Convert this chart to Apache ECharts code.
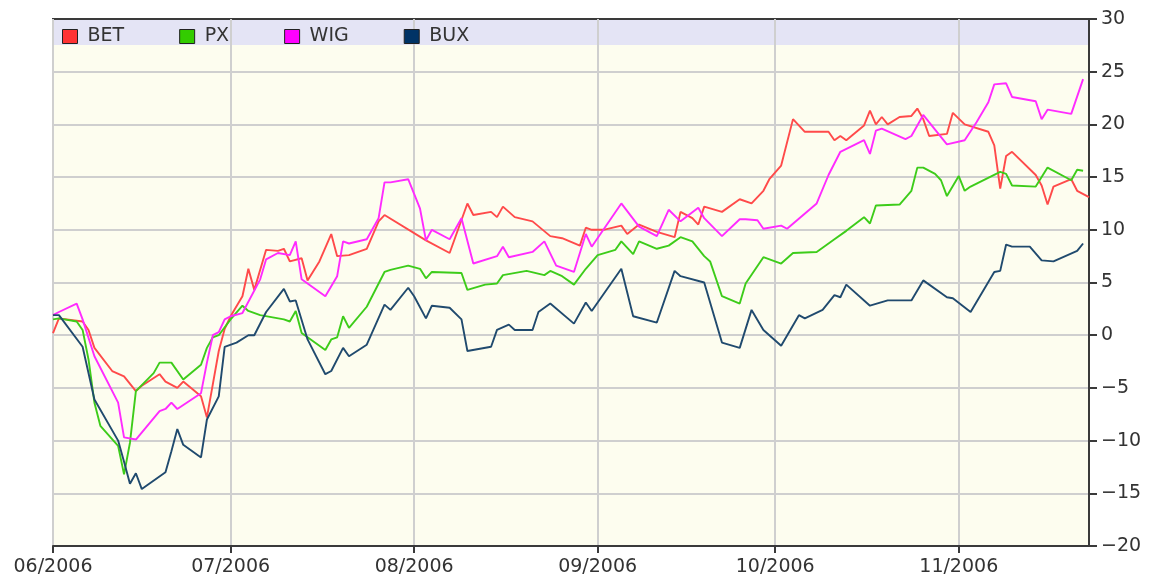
<!DOCTYPE html>
<html>
<head>
<meta charset="utf-8">
<script src="https://cdn.jsdelivr.net/npm/echarts@6/dist/echarts.min.js"></script>
<style>
  html, body { margin: 0; padding: 0; background: #ffffff; }
  #chart { width: 1150px; height: 584px; }
</style>
</head>
<body>
<div id="chart"></div>
<script>
// index performance in %
var seriesNames = ['BET', 'PX', 'WIG', 'BUX'];
var yTicks = [-20, -15, -10, -5, 0, 5, 10, 15, 20, 25, 30];

var betDates = ['2006-06-01','2006-06-02','2006-06-06','2006-06-07','2006-06-08','2006-06-11','2006-06-13','2006-06-15','2006-06-16','2006-06-19','2006-06-20','2006-06-22','2006-06-23','2006-06-26','2006-06-27','2006-06-29','2006-06-30',
  '2006-07-01','2006-07-03','2006-07-04','2006-07-05','2006-07-07','2006-07-09','2006-07-10','2006-07-11','2006-07-13','2006-07-14','2006-07-16','2006-07-18','2006-07-19','2006-07-21','2006-07-24','2006-07-26','2006-07-27',
  '2006-08-03','2006-08-07','2006-08-10','2006-08-11','2006-08-14','2006-08-15','2006-08-16','2006-08-18','2006-08-21','2006-08-24','2006-08-26','2006-08-29','2006-08-30','2006-08-31',
  '2006-09-02','2006-09-05','2006-09-06','2006-09-08','2006-09-11','2006-09-14','2006-09-15','2006-09-17','2006-09-18','2006-09-19','2006-09-22','2006-09-25','2006-09-27','2006-09-29','2006-09-30',
  '2006-10-02','2006-10-04','2006-10-06','2006-10-10','2006-10-11','2006-10-12','2006-10-13','2006-10-16','2006-10-17','2006-10-18','2006-10-19','2006-10-20','2006-10-22','2006-10-24','2006-10-25','2006-10-26','2006-10-27','2006-10-30','2006-10-31',
  '2006-11-02','2006-11-06','2006-11-07','2006-11-08','2006-11-09','2006-11-10','2006-11-14','2006-11-15','2006-11-16','2006-11-17','2006-11-20','2006-11-21','2006-11-23'];
var betValues = [0.2,1.6,1.3,0.5,-1.2,-3.4,-3.9,-5.3,-4.8,-3.7,-4.4,-5.0,-4.4,-5.8,-7.8,-1.5,0.6,
  1.8,3.7,6.3,4.3,8.1,8.0,8.2,7.0,7.3,5.2,7.0,9.6,7.5,7.6,8.2,10.8,11.4,
  9.0,7.8,12.5,11.4,11.7,11.2,12.2,11.2,10.8,9.4,9.2,8.5,10.2,10.0,
  10.0,10.4,9.6,10.5,9.8,9.3,11.7,11.1,10.5,12.2,11.7,12.9,12.5,13.7,14.8,
  16.1,20.5,19.3,19.3,18.5,18.9,18.5,19.9,21.3,20.0,20.7,20.0,20.7,20.8,21.5,20.5,18.9,19.1,21.1,
  20.0,19.3,18.0,13.9,17.0,17.4,15.2,14.2,12.4,14.1,14.8,13.7,13.1];

var pxDates = ['2006-06-01','2006-06-02','2006-06-05','2006-06-06','2006-06-07','2006-06-08','2006-06-09','2006-06-12','2006-06-13','2006-06-14','2006-06-15','2006-06-18','2006-06-19','2006-06-21','2006-06-23','2006-06-26','2006-06-27','2006-06-28','2006-06-29',
  '2006-07-01','2006-07-03','2006-07-04','2006-07-06','2006-07-10','2006-07-11','2006-07-12','2006-07-13','2006-07-17','2006-07-18','2006-07-19','2006-07-20','2006-07-21','2006-07-24','2006-07-27','2006-07-28','2006-07-31',
  '2006-08-02','2006-08-03','2006-08-04','2006-08-09','2006-08-10','2006-08-13','2006-08-15','2006-08-16','2006-08-20','2006-08-23','2006-08-24','2006-08-26','2006-08-28','2006-08-30',
  '2006-09-01','2006-09-04','2006-09-05','2006-09-07','2006-09-08','2006-09-11','2006-09-13','2006-09-15','2006-09-17','2006-09-19','2006-09-20','2006-09-22','2006-09-25','2006-09-26','2006-09-29',
  '2006-10-02','2006-10-04','2006-10-08','2006-10-10','2006-10-11','2006-10-13','2006-10-16','2006-10-17','2006-10-18','2006-10-22','2006-10-24','2006-10-25','2006-10-26','2006-10-28','2006-10-29','2006-10-30',
  '2006-11-01','2006-11-02','2006-11-03','2006-11-08','2006-11-09','2006-11-10','2006-11-14','2006-11-16','2006-11-20','2006-11-21','2006-11-22'];
var pxValues = [1.5,1.6,1.3,0.5,-2.3,-6.4,-8.6,-10.5,-13.2,-10.2,-5.3,-3.6,-2.6,-2.6,-4.2,-2.8,-1.2,-0.2,0.0,
  1.5,2.8,2.3,1.9,1.5,1.3,2.3,0.2,-1.4,-0.4,-0.2,1.8,0.7,2.7,6.0,6.2,6.6,
  6.3,5.4,6.0,5.9,4.3,4.8,4.9,5.7,6.1,5.7,6.1,5.6,4.8,6.3,
  7.6,8.1,8.9,7.7,8.9,8.2,8.5,9.3,8.9,7.5,7.0,3.7,3.0,4.9,7.4,
  6.8,7.8,7.9,8.7,9.1,9.9,11.2,10.6,12.3,12.4,13.7,15.9,15.9,15.3,14.7,13.2,
  15.1,13.7,14.1,15.5,15.3,14.2,14.1,15.9,14.7,15.7,15.6];

var wigDates = ['2006-06-01','2006-06-02','2006-06-05','2006-06-06','2006-06-08','2006-06-12','2006-06-13','2006-06-15','2006-06-19','2006-06-20','2006-06-21','2006-06-22','2006-06-26','2006-06-27','2006-06-28','2006-06-29','2006-06-30',
  '2006-07-01','2006-07-03','2006-07-06','2006-07-07','2006-07-09','2006-07-11','2006-07-12','2006-07-13','2006-07-17','2006-07-19','2006-07-20','2006-07-21','2006-07-24','2006-07-26','2006-07-27','2006-07-28','2006-07-31',
  '2006-08-01','2006-08-02','2006-08-03','2006-08-04','2006-08-07','2006-08-09','2006-08-11','2006-08-15','2006-08-16','2006-08-17','2006-08-21','2006-08-23','2006-08-25','2006-08-28','2006-08-30','2006-08-31',
  '2006-09-05','2006-09-08','2006-09-11','2006-09-13','2006-09-15','2006-09-18','2006-09-19','2006-09-22','2006-09-25','2006-09-26','2006-09-28','2006-09-29',
  '2006-10-02','2006-10-03','2006-10-08','2006-10-10','2006-10-12','2006-10-16','2006-10-17','2006-10-18','2006-10-19','2006-10-23','2006-10-24','2006-10-26','2006-10-30',
  '2006-11-02','2006-11-04','2006-11-06','2006-11-07','2006-11-09','2006-11-10','2006-11-14','2006-11-15','2006-11-16','2006-11-20','2006-11-22'];
var wigValues = [1.9,2.2,3.0,1.5,-2.0,-6.4,-9.7,-9.9,-7.2,-7.0,-6.4,-7.0,-5.5,-2.6,0.0,0.3,1.5,
  1.8,2.1,5.3,7.2,7.8,7.6,8.9,5.3,3.7,5.6,8.9,8.7,9.1,11.1,14.5,14.5,14.8,
  13.4,12.0,9.0,10.0,9.1,11.1,6.8,7.5,8.4,7.4,7.9,8.9,6.6,6.0,9.6,8.4,
  12.5,10.3,9.4,11.9,10.8,12.1,11.1,9.4,11.0,11.0,10.9,10.1,
  10.4,10.1,12.5,15.2,17.4,18.5,17.2,19.4,19.6,18.6,18.9,20.9,18.1,
  18.5,20.2,22.1,23.8,23.9,22.6,22.2,20.5,21.4,21.0,24.3];

var buxDates = ['2006-06-01','2006-06-02','2006-06-06','2006-06-08','2006-06-12','2006-06-13','2006-06-14','2006-06-15','2006-06-16','2006-06-20','2006-06-21','2006-06-22','2006-06-23','2006-06-26','2006-06-27','2006-06-29','2006-06-30',
  '2006-07-02','2006-07-04','2006-07-05','2006-07-07','2006-07-10','2006-07-11','2006-07-12','2006-07-14','2006-07-17','2006-07-18','2006-07-20','2006-07-21','2006-07-24','2006-07-27','2006-07-28','2006-07-31',
  '2006-08-01','2006-08-03','2006-08-04','2006-08-07','2006-08-09','2006-08-10','2006-08-14','2006-08-15','2006-08-17','2006-08-18','2006-08-21','2006-08-22','2006-08-24','2006-08-28','2006-08-30','2006-08-31',
  '2006-09-05','2006-09-07','2006-09-11','2006-09-14','2006-09-15','2006-09-19','2006-09-22','2006-09-25','2006-09-27','2006-09-29',
  '2006-10-02','2006-10-05','2006-10-06','2006-10-09','2006-10-11','2006-10-12','2006-10-13','2006-10-17','2006-10-20','2006-10-24','2006-10-26','2006-10-30','2006-10-31',
  '2006-11-03','2006-11-07','2006-11-08','2006-11-09','2006-11-10','2006-11-13','2006-11-15','2006-11-17','2006-11-21','2006-11-22'];
var buxValues = [1.9,1.9,-1.1,-6.1,-10.0,-12.0,-14.1,-13.1,-14.6,-13.0,-11.0,-8.9,-10.4,-11.6,-8.0,-5.8,-1.1,
  -0.7,0.0,0.0,2.2,4.4,3.2,3.3,-0.4,-3.7,-3.4,-1.2,-2.0,-0.9,2.9,2.4,4.5,
  3.7,1.6,2.8,2.6,1.5,-1.5,-1.1,0.5,1.0,0.5,0.5,2.2,3.0,1.1,3.1,2.3,
  6.3,1.8,1.2,6.1,5.6,5.0,-0.7,-1.2,2.4,0.5,
  -1.0,1.9,1.6,2.4,3.8,3.6,4.8,2.8,3.3,3.3,5.2,3.6,3.5,
  2.2,6.0,6.1,8.6,8.4,8.4,7.1,7.0,8.0,8.7];

var lineColors = ['#ff4a4a', '#3dcc1a', '#ff2bff', '#204a6e'];
var legendColors = ['#ff3333', '#33cc00', '#ff00ff', '#003366'];

function pairs(dates, values) {
  var out = [];
  for (var i = 0; i < dates.length; i++) {
    out.push([dates[i], values[i]]);
  }
  return out;
}

var allData = [
  pairs(betDates, betValues),
  pairs(pxDates, pxValues),
  pairs(wigDates, wigValues),
  pairs(buxDates, buxValues)
];

var chart = echarts.init(document.getElementById('chart'));

var series = [];
var legendData = [];
for (var s = 0; s < seriesNames.length; s++) {
  series.push({
    name: seriesNames[s],
    type: 'line',
    showSymbol: false,
    symbol: 'none',
    color: lineColors[s],
    lineStyle: { width: 1.9, color: lineColors[s] },
    data: allData[s]
  });
  legendData.push({ name: seriesNames[s], itemStyle: { color: legendColors[s] } });
}

var DAY = 24 * 3600 * 1000;

var option = {
  backgroundColor: '#ffffff',
  animation: false,
  textStyle: { fontFamily: 'DejaVu Sans' },
  grid: {
    left: 53, right: 61, top: 19, bottom: 38,
    show: true,
    backgroundColor: 'transparent',
    borderColor: '#3a3a3a',
    borderWidth: 2
  },
  // cream plot area and lavender legend band, kept inside the border
  graphic: [
    { type: 'rect', z: -10, silent: true, shape: { x: 54, y: 20, width: 1034, height: 525 }, style: { fill: '#fdfdef' } },
    { type: 'rect', z: -9, silent: true, shape: { x: 54, y: 20, width: 1034, height: 25 }, style: { fill: '#e4e4f5' } }
  ],
  legend: {
    data: legendData,
    left: 62,
    top: 27,
    padding: 0,
    icon: 'rect',
    itemWidth: 15,
    itemHeight: 14,
    itemGap: 55,
    itemStyle: { borderColor: '#222', borderWidth: 1 },
    textStyle: { fontSize: 19, color: '#333', fontFamily: 'DejaVu Sans', padding: [0, 0, 0, 5] }
  },
  xAxis: {
    type: 'time',
    min: '2006-06-01',
    max: '2006-11-23',
    minInterval: 28 * DAY,
    maxInterval: 31 * DAY,
    axisLine: { show: true, onZero: false, lineStyle: { color: '#3a3a3a', width: 2 } },
    axisTick: { show: true, length: 7, lineStyle: { color: '#3a3a3a', width: 2 } },
    splitLine: { show: true, showMinLine: false, showMaxLine: false, lineStyle: { color: '#cfcfcf', width: 2 } },
    axisLabel: {
      fontSize: 19,
      color: '#333',
      margin: 12,
      showMinLabel: true,
      formatter: function (v) {
        var d = new Date(v);
        var m = d.getMonth() + 1;
        return (m < 10 ? '0' + m : m) + '/' + d.getFullYear();
      }
    }
  },
  yAxis: {
    type: 'value',
    position: 'right',
    min: yTicks[0],
    max: yTicks[yTicks.length - 1],
    interval: 5,
    axisLine: { show: true, lineStyle: { color: '#3a3a3a', width: 2 } },
    axisTick: { show: true, length: 8, lineStyle: { color: '#3a3a3a', width: 2 } },
    splitLine: { show: true, showMinLine: false, showMaxLine: false, lineStyle: { color: '#cfcfcf', width: 2 } },
    axisLabel: {
      fontSize: 19,
      color: '#333',
      margin: 12,
      formatter: function (v) {
        return v < 0 ? '\u2212' + Math.abs(v) : String(v);
      }
    }
  },
  series: series
};

chart.setOption(option);
</script>
</body>
</html>
